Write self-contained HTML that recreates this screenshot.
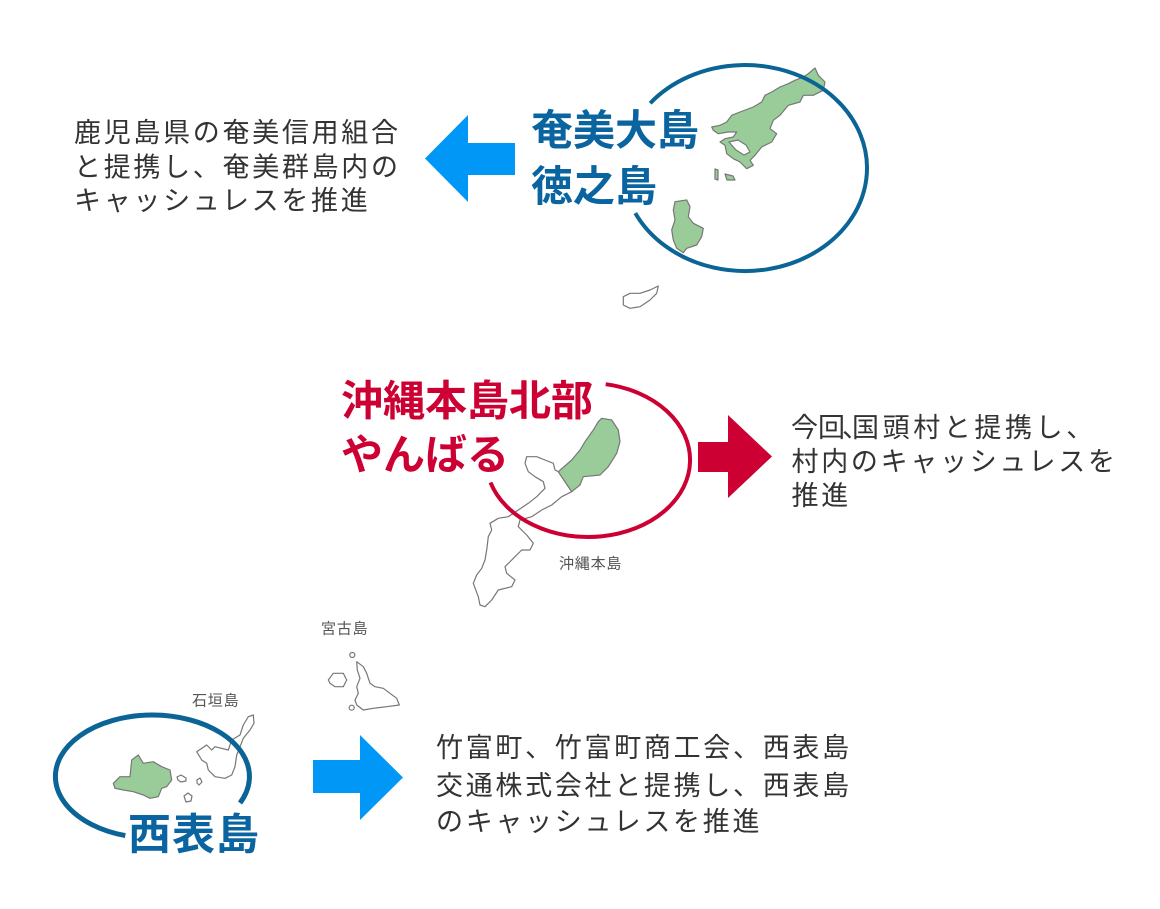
<!DOCTYPE html>
<html><head><meta charset="utf-8"><style>
html,body{margin:0;padding:0;background:#fff;}
svg{display:block;}
.b{font-family:"Liberation Sans","Noto Sans CJK JP",sans-serif;font-size:27px;fill:#333;letter-spacing:2.7px;}
.t{font-family:"Liberation Sans","Noto Sans CJK JP",sans-serif;font-weight:bold;font-size:42px;}
.s{font-family:"Liberation Sans","Noto Sans CJK JP",sans-serif;font-size:15px;fill:#555;letter-spacing:0.8px;}
.isl{stroke:#777;stroke-width:1.2;stroke-linejoin:round;}
</style></head><body>
<svg width="1160" height="909" viewBox="0 0 1160 909" xmlns="http://www.w3.org/2000/svg">
<rect width="1160" height="909" fill="#fff"/>

<!-- Amami islands -->
<polygon class="isl" fill="#99cc99" points="815,68 818.3,75.3 825,82 823.3,90.3 813.3,95.3 803.3,95.3 800,102 788.3,105.3 780,115.3 773.3,120.3 770,128.7 776.7,133.7 771.7,142 761.7,147 755,155.3 750,160.3 753.3,165.3 746.7,168.7 740,162 733.3,158.7 726.7,153.7 725,145.3 720,142 725,138.7 733.3,137 736.7,132 728.3,132 718.3,133.7 713.3,130.3 711.7,127 720,125.3 726.7,122 731.7,115.3 740,112 753.3,107 761.7,102 765,95.3 771.7,92 780,87 788.3,83.7 795,80.3 803.3,77 808.3,73.7"/>
<polygon class="isl" fill="#fff" points="729,142 738,140 746,145 750,152 744,155 736,150"/>
<polygon class="isl" fill="#99cc99" points="715,169 718,170 718,180 715,179"/>
<polygon class="isl" fill="#99cc99" points="725,174 733,176 735,180 727,180"/>
<polygon class="isl" fill="#99cc99" points="675,201.7 686.7,200 690,206.7 688.3,216.7 693.3,223.3 703.3,228.3 701.7,236.7 696.7,245 686.7,248.3 683.3,252.7 676.7,248.3 673.3,240 671.7,230 675,220 673.3,210"/>
<polygon class="isl" fill="#fff" points="623.3,296.7 630,293.3 640,293.3 650,290 658.3,286 656.7,293.3 650,300 640,306.7 630,308.3 623.3,305"/>
<path d="M650.2,103.2 A122,103 0 1 1 635.3,213.1" fill="none" stroke="#0a6496" stroke-width="4"/>

<!-- Okinawa -->
<polygon class="isl" fill="#fff" points="558.3,471.7 555,470 553.3,463.3 545,460 536.7,456.7 526.7,456.7 525,463.3 528.3,471.7 535,476.7 543.3,481.7 545,488.3 536.7,496.7 528.3,503.3 518.3,510 508.3,516.7 498.3,518.3 490,523.3 491.7,530 488.3,536.7 486.7,550 485,560 481.7,568.3 476.7,575 473.3,583.3 478.3,596.7 480,605 485,606.7 491.7,600 498.3,590 511.7,586.7 515,580 506.7,573.3 505,566.7 515,556.7 521.7,550 530,550 533.3,543.3 526.7,535 518.3,526.7 520,520 531.7,516.7 541.7,510 551.7,505 561.7,496.7 571.7,491.7 565,481.7"/>
<polygon class="isl" fill="#99cc99" points="601.7,418.3 611.7,420 618.3,430 620,441.7 616.7,453.3 608.3,466.7 600,475 583.3,476.7 580,485 571.7,491.7 565,481.7 558.3,471.7 571.7,460 580,450 585,441.7 593.3,430 598.3,421.7"/>
<path d="M605.7,384.2 A102,77 0 1 1 490.5,482.5" fill="none" stroke="#cc0033" stroke-width="4"/>

<!-- Miyako -->
<polygon class="isl" fill="#fff" points="356.7,661.7 363.3,666.7 366.7,673.3 370,683.3 375,686.7 383.3,688.3 390,693.3 396.7,698.3 399.3,705 386.7,706.7 373.3,708.3 363.3,710 356.7,705 355,700 358.3,693.3 356.7,686.7 360,678.3 357.3,670"/>
<polygon class="isl" fill="#fff" points="328.3,680 333.3,673.3 343.3,673.3 346.7,680 343.3,686.7 335,686.7 330,683.3"/>
<circle class="isl" fill="#fff" cx="352.3" cy="655" r="2.5"/>
<circle class="isl" fill="#fff" cx="351.7" cy="707.7" r="2.5"/>

<!-- Yaeyama -->
<polygon class="isl" fill="#fff" points="196.7,751.7 206.7,745 211.7,750 215,746.7 228.3,750 231.7,740 240,735 243.3,725 248.3,716.7 253.3,715 254,723.3 250,730 243.3,738.3 240,746.7 236.7,755 235,766.7 231.7,775 225,778.3 215,776.7 208.3,770 206.7,763.3 201.7,760"/>
<polygon class="isl" fill="#99cc99" points="113.3,783.3 120,776.7 130,776.7 131.7,760 138.3,755 143.3,763.3 153.3,761.7 161.7,766.7 170,770 171.7,780 166.7,786.7 161.7,788.3 158.3,796.7 150,798.3 143.3,795 133.3,791.7 123.3,790 115,788.3"/>
<polygon class="isl" fill="#fff" points="177,777 181,775 186,778 186,781 181,782 178,780"/>
<polygon class="isl" fill="#fff" points="197,780 200,778 202,782 199,785 197,783"/>
<polygon class="isl" fill="#fff" points="184,796 188,793 192,796 191,801 186,802"/>
<path d="M240,803 A97,61.5 0 1 0 125.3,835.6" fill="none" stroke="#0a6496" stroke-width="5"/>

<!-- arrows -->
<polygon fill="#0097f7" points="515,143 468,143 468,115 425,158.5 468,202 468,175 515,175"/>
<polygon fill="#cc0033" points="698,442 728,442 728,415 772,456.5 728,498 728,472 698,472"/>
<polygon fill="#0097f7" points="313,760 360,760 360,735 403,777.5 360,820 360,793 313,793"/>

<!-- titles -->
<text class="t" x="531" y="145" fill="#0a64a0">奄美大島</text>
<text class="t" x="531" y="201" fill="#0a64a0">徳之島</text>
<text class="t" x="341" y="415.5" fill="#cc0033">沖縄本島北部</text>
<text class="t" x="341" y="469.5" fill="#cc0033">やんばる</text>
<text class="t" x="128" y="849.5" fill="#0a64a0" style="font-size:43px;letter-spacing:1px">西表島</text>

<!-- small labels -->
<text class="s" x="559" y="568.5">沖縄本島</text>
<text class="s" x="321" y="633.5">宮古島</text>
<text class="s" x="192" y="705.5">石垣島</text>

<!-- body texts -->
<text class="b" x="74" y="142">鹿児島県の奄美信用組合</text>
<text class="b" x="74" y="176.5">と提携し、奄美群島内の</text>
<text class="b" x="74" y="210">キャッシュレスを推進</text>

<text class="b" x="791" y="437">今</text>
<text class="b" x="818" y="437">回</text>
<text class="b" x="842" y="437">、</text>
<text class="b" x="852" y="437" style="letter-spacing:3.6px">国頭村と提携し、</text>
<text class="b" x="791.5" y="471">村内のキャッシュレスを</text>
<text class="b" x="791.5" y="505">推進</text>

<text class="b" x="436" y="757">竹富町、竹富町商工会、西表島</text>
<text class="b" x="436" y="795">交通株式会社と提携し、西表島</text>
<text class="b" x="436" y="831">のキャッシュレスを推進</text>
</svg>
</body></html>
